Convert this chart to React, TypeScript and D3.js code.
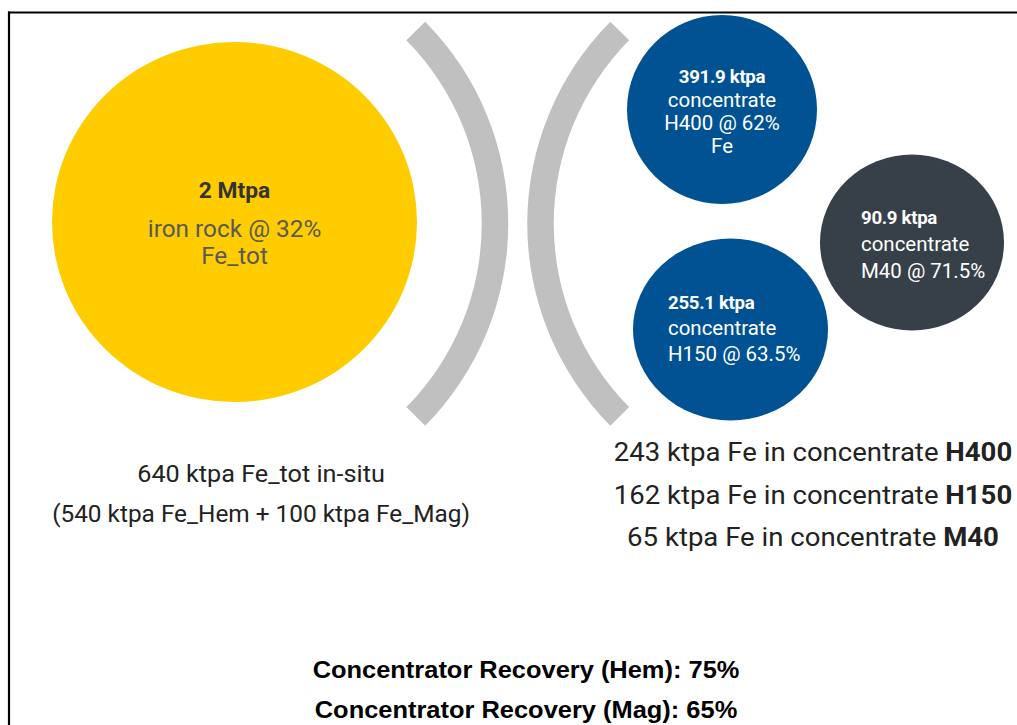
import React from "react";
import * as d3 from "d3";

// ---------- data ----------
const feedLines = ["2 Mtpa", "iron rock @ 32%", "Fe_tot"];
const productNames = ["H400", "H150", "M40"];
const productTonnage = ["391.9 ktpa", "255.1 ktpa", "90.9 ktpa"];
const productGrade = ["H400 @ 62%", "H150 @ 63.5%", "M40 @ 71.5%"];
const feInConcentrate = [243, 162, 65];
const feedSummary = ["640 ktpa Fe_tot in-situ", "(540 ktpa Fe_Hem + 100 ktpa Fe_Mag)"];
const recoveryLabels = ["Hem", "Mag"];
const recoveryValues = [75, 65];

// ---------- layout / style ----------
const W = 1017;
const H = 725;
const SX = 1.06; // horizontal stretch of the original picture
const COLORS = {
  feed: "#FFCC00",
  hem: "#005293",
  mag: "#374048",
  arc: "#C0C0C0",
};
const SANS = "Roboto, 'Noto Sans', sans-serif";

const feedBubble = { cx: 234.5, cy: 222, rx: 182.5, ry: 180 };
const productBubbles = [
  { cx: 722, cy: 109.5, rx: 95, ry: 94.5, fill: COLORS.hem, anchor: "middle", tx: 722, ty0: 77, dy: 23 },
  { cx: 730.5, cy: 329.5, rx: 97.5, ry: 91, fill: COLORS.hem, anchor: "start", tx: 668, ty0: 303, dy: 25.5 },
  { cx: 912, cy: 242.5, rx: 92, ry: 88, fill: COLORS.mag, anchor: "start", tx: 861, ty0: 218, dy: 26.5 },
];

function SText(props: any) {
  const { x, y, children, ...rest } = props;
  return (
    <text transform={`translate(${x},${y}) scale(${SX},1)`} dy="0.35em" {...rest}>
      {children}
    </text>
  );
}

export default function App() {
  const arcGen = d3.arc();
  const R = 274;
  const sw = 26.5;
  const theta = (44.7 * Math.PI) / 180;
  const leftArc = arcGen({
    innerRadius: R - sw / 2,
    outerRadius: R + sw / 2,
    startAngle: Math.PI / 2 - theta,
    endAngle: Math.PI / 2 + theta,
  } as any) as string;
  const rightArc = arcGen({
    innerRadius: R - sw / 2,
    outerRadius: R + sw / 2,
    startAngle: -Math.PI / 2 - theta,
    endAngle: -Math.PI / 2 + theta,
  } as any) as string;
  const arcCy = 223.7;

  const yRight = d3.scalePoint<number>().domain(d3.range(feInConcentrate.length)).range([452, 537]);
  const yRecovery = d3.scalePoint<number>().domain(d3.range(recoveryLabels.length)).range([670, 710]);

  return (
    <svg
      width={W}
      height={H}
      style={{ position: "absolute", left: 0, top: 0, background: "#fff" }}
      fontFamily={SANS}
    >
      {/* frame */}
      <line x1={8} y1={12.5} x2={W} y2={12.5} stroke="#000" strokeWidth={2.2} />
      <line x1={9} y1={11.5} x2={9} y2={H} stroke="#000" strokeWidth={2.2} />

      {/* feed bubble */}
      <ellipse cx={feedBubble.cx} cy={feedBubble.cy} rx={feedBubble.rx} ry={feedBubble.ry} fill={COLORS.feed} />
      {feedLines.map((t, i) => (
        <SText
          key={t}
          x={feedBubble.cx}
          y={[190, 229, 256][i]}
          textAnchor="middle"
          fontSize={i === 0 ? 21.5 : 23}
          fontWeight={i === 0 ? 700 : 400}
          fill={i === 0 ? "#333" : "#595959"}
        >
          {t}
        </SText>
      ))}

      {/* separator arcs */}
      <path d={leftArc} transform={`translate(221,${arcCy})`} fill={COLORS.arc} />
      <path d={rightArc} transform={`translate(814.5,${arcCy})`} fill={COLORS.arc} />

      {/* product bubbles */}
      {productBubbles.map((b, i) => {
        const lines = [productTonnage[i], "concentrate", ...(i === 0 ? ["H400 @ 62%", "Fe"] : [productGrade[i]])];
        return (
          <g key={productNames[i]}>
            <ellipse cx={b.cx} cy={b.cy} rx={b.rx} ry={b.ry} fill={b.fill} />
            {lines.map((t, j) => (
              <SText
                key={j}
                x={b.tx}
                y={b.ty0 + j * b.dy}
                textAnchor={b.anchor}
                fontSize={j === 0 ? 17.6 : 19.3}
                fontWeight={j === 0 ? 700 : 400}
                fill="#fff"
                letterSpacing={j === 0 ? -0.3 : 0}
              >
                {t}
              </SText>
            ))}
          </g>
        );
      })}

      {/* feed summary */}
      {feedSummary.map((t, i) => (
        <SText key={t} x={261} y={474 + i * 40} textAnchor="middle" fontSize={i === 0 ? 23.8 : 23} fill="#222">
          {t}
        </SText>
      ))}

      {/* Fe in concentrate */}
      {feInConcentrate.map((v, i) => (
        <SText key={i} x={813} y={yRight(i)} textAnchor="middle" fontSize={26} fill="#222">
          {`${v} ktpa Fe in concentrate `}
          <tspan fontWeight={700}>{productNames[i]}</tspan>
        </SText>
      ))}

      {/* recoveries */}
      {recoveryLabels.map((l, i) => (
        <SText
          key={l}
          x={526}
          y={yRecovery(i)}
          textAnchor="middle"
          fontFamily="'Liberation Sans', Arial, sans-serif"
          fontWeight={700}
          fontSize={24}
          fill="#000"
        >
          {`Concentrator Recovery (${l}): ${recoveryValues[i]}%`}
        </SText>
      ))}
    </svg>
  );
}
